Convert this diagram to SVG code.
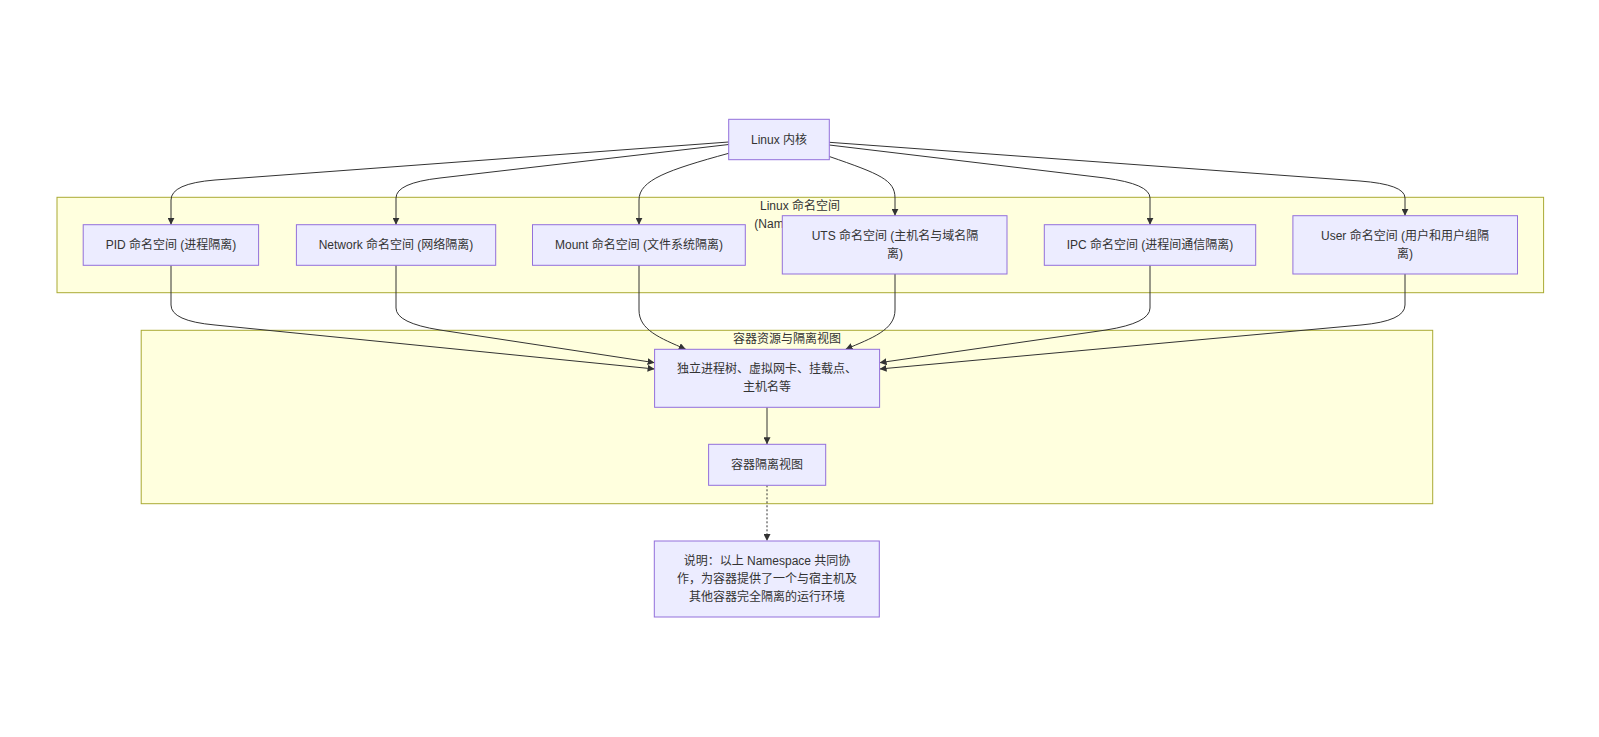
<svg xmlns="http://www.w3.org/2000/svg" width="1599" height="737" viewBox="0 0 1599 737">
<style>
text{font-family:"Liberation Sans","Noto Sans CJK SC",sans-serif;font-size:12px;fill:#333;text-anchor:middle}
.cluster{fill:#ffffde;stroke:#aaaa33;stroke-width:1}
.node{fill:#ececff;stroke:#9370db;stroke-width:1}
.edge{fill:none;stroke:#333;stroke-width:1}
.dot{stroke-dasharray:2 2}
</style>
<defs>
<marker id="arr" viewBox="0 0 10 10" refX="10" refY="5" markerWidth="7" markerHeight="7" markerUnits="userSpaceOnUse" orient="auto">
<path d="M0,0 L10,5 L0,10 z" fill="#333"/>
</marker>
</defs>
<rect width="1599" height="737" fill="#fff"/>
<g id="cluster-ns">
<rect class="cluster" x="57" y="197.3" width="1486.6" height="95.4"/>
<text x="800" y="209.7">Linux 命名空间</text>
<text x="754.3" y="228" style="text-anchor:start">(Namespace)</text>
</g>
<g id="cluster-view">
<rect class="cluster" x="141.2" y="330.3" width="1291.5" height="173.4"/>
<text x="787" y="343.3">容器资源与隔离视图</text>
</g>
<g id="connectors">
<path class="edge" marker-end="url(#arr)" d="M728.7,142 L215,180 Q171,183.5 171,200 L171,224.7"/>
<path class="edge" marker-end="url(#arr)" d="M728.7,144.5 L440,178 Q396,183 396,198 L396,224.7"/>
<path class="edge" marker-end="url(#arr)" d="M728.7,153.3 C668,170 639,180 639,200 L639,224.7"/>
<path class="edge" marker-end="url(#arr)" d="M829.3,156.5 C880,174 895,180 895,198 L895,215.7"/>
<path class="edge" marker-end="url(#arr)" d="M829.3,145 L1105,178 Q1150,184 1150,198 L1150,224.7"/>
<path class="edge" marker-end="url(#arr)" d="M829.3,142.3 L1360,181 Q1405,184.5 1405,198 L1405,215.7"/>
<path class="edge" marker-end="url(#arr)" d="M171,265.3 L171,305 Q171,321 215,325 L654.6,369"/>
<path class="edge" marker-end="url(#arr)" d="M396,265.3 L396,308 Q396,323 440,330 L654.6,362.7"/>
<path class="edge" marker-end="url(#arr)" d="M639,265.3 L639,310 C639,330 660,338 685.8,349.3"/>
<path class="edge" marker-end="url(#arr)" d="M895,274 L895,310 C895,330 872,338 845.6,349.3"/>
<path class="edge" marker-end="url(#arr)" d="M1150,265.3 L1150,308 Q1150,323 1106,330 L879.6,362.7"/>
<path class="edge" marker-end="url(#arr)" d="M1405,274 L1405,305 Q1405,321 1361,325 L879.6,369"/>
<path class="edge" marker-end="url(#arr)" d="M767,407.3 L767,444.3"/>
<path class="edge dot" marker-end="url(#arr)" d="M767,485.3 L767,541"/>
</g>
<g id="kernel">
<rect class="node" x="728.7" y="119.3" width="100.6" height="40.4"/>
<text x="779" y="143.5">Linux 内核</text>
</g>
<g id="pid">
<rect class="node" x="83.2" y="224.7" width="175.4" height="40.6"/>
<text x="171" y="249">PID 命名空间 (进程隔离)</text>
</g>
<g id="net">
<rect class="node" x="296.4" y="224.7" width="199.3" height="40.6"/>
<text x="396" y="249">Network 命名空间 (网络隔离)</text>
</g>
<g id="mnt">
<rect class="node" x="532.5" y="224.7" width="212.8" height="40.6"/>
<text x="639" y="249">Mount 命名空间 (文件系统隔离)</text>
</g>
<g id="uts">
<rect class="node" x="782.3" y="215.7" width="224.7" height="58.3"/>
<text x="895" y="240">UTS 命名空间 (主机名与域名隔</text>
<text x="895" y="258">离)</text>
</g>
<g id="ipc">
<rect class="node" x="1044.3" y="224.7" width="211.4" height="40.6"/>
<text x="1150" y="249">IPC 命名空间 (进程间通信隔离)</text>
</g>
<g id="user">
<rect class="node" x="1292.9" y="215.7" width="224.6" height="58.3"/>
<text x="1405" y="240">User 命名空间 (用户和用户组隔</text>
<text x="1405" y="258">离)</text>
</g>
<g id="resources">
<rect class="node" x="654.6" y="349.3" width="225" height="58"/>
<text x="767" y="373">独立进程树、虚拟网卡、挂载点、</text>
<text x="767" y="391.3">主机名等</text>
</g>
<g id="view">
<rect class="node" x="708.6" y="444.3" width="117.1" height="41"/>
<text x="767" y="469">容器隔离视图</text>
</g>
<g id="note">
<rect class="node" x="654.3" y="541" width="225" height="76"/>
<text x="767" y="564.7">说明：以上 Namespace 共同协</text>
<text x="767" y="582.7">作，为容器提供了一个与宿主机及</text>
<text x="767" y="600.7">其他容器完全隔离的运行环境</text>
</g>
</svg>
